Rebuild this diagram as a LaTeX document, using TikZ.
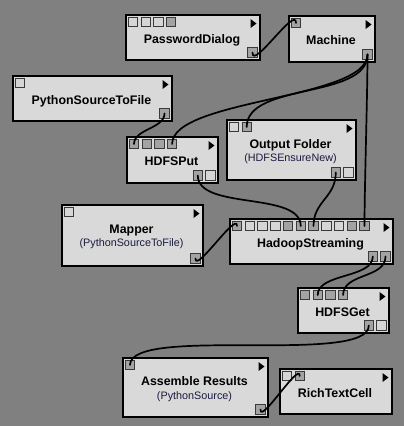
\documentclass[tikz,border=0pt]{standalone}
\usepackage{fontspec}
\setmainfont{Liberation Sans}
\definecolor{canvas}{HTML}{808080}
\definecolor{modfill}{HTML}{D9D9D9}
\definecolor{portlight}{HTML}{D6D6D6}
\definecolor{portgray}{HTML}{A3A3A3}
\definecolor{portline}{HTML}{3A3A3A}
\definecolor{subtext}{HTML}{1A1A40}

\begin{document}
\begin{tikzpicture}[x=1pt,y=-1pt,
        module/.style={draw, line width=1.5pt, fill=modfill, anchor=north west, inner sep=0pt},
        port/.style={draw=portline, line width=0.8pt, minimum size=9.5pt, inner sep=0pt},
        title/.style={anchor=base, font=\bfseries\fontsize{12.4}{14}\selectfont},
        subtitle/.style={anchor=base, text=subtext, font=\fontsize{10.8}{13}\selectfont},
        wire/.style={line width=1.7pt, line cap=round}]
        \fill[canvas] (0,0) rectangle (404,426);
        \useasboundingbox (0,0) rectangle (404,426);
        \node[module, minimum width=134pt, minimum height=45pt] (pd) at (125,14) {};
        \node[module, minimum width=86pt, minimum height=46pt] (m) at (288,15) {};
        \node[module, minimum width=159pt, minimum height=45pt] (ps) at (12,75) {};
        \node[module, minimum width=91pt, minimum height=46pt] (hp) at (126,136) {};
        \node[module, minimum width=129pt, minimum height=60pt] (of) at (226,119) {};
        \node[module, minimum width=141pt, minimum height=61pt] (mp) at (61,204) {};
        \node[module, minimum width=163pt, minimum height=45pt] (hs) at (229,218) {};
        \node[module, minimum width=91pt, minimum height=45pt] (hg) at (297,287) {};
        \node[module, minimum width=145pt, minimum height=59pt] (ar) at (122,357) {};
        \node[module, minimum width=112pt, minimum height=45pt] (rt) at (279,368) {};
        \foreach \m in {pd,m,ps,hp,of,mp,hs,hg,ar,rt}
            \fill ([shift={(-10,5)}]\m.north east) -- ++(6,4.5) -- ++(-6,4.5) -- cycle;
        \foreach \c [count=\i] in {portlight,portlight,portlight,portgray}
            \node[port, fill=\c] (pd-i\i) at ([shift={({8+12.7*(\i-1)},8)}]pd.north west) {};
        \node[port, fill=portgray] (pd-o1) at ([shift={(-8,-8)}]pd.south east) {};
        \node[port, fill=portgray] (m-i1) at ([shift={(8,8)}]m.north west) {};
        \node[port, fill=portgray] (m-o1) at ([shift={(-8,-8)}]m.south east) {};
        \node[port, fill=portlight] (ps-i1) at ([shift={(8,8)}]ps.north west) {};
        \node[port, fill=portgray] (ps-o1) at ([shift={(-8,-8)}]ps.south east) {};
        \foreach \i in {1,...,4}
            \node[port, fill=portgray] (hp-i\i) at ([shift={({8+12.7*(\i-1)},8)}]hp.north west) {};
        \node[port, fill=portgray] (hp-o1) at ([shift={(-20.7,-8)}]hp.south east) {};
        \node[port, fill=portlight] (hp-o2) at ([shift={(-8,-8)}]hp.south east) {};
        \foreach \c [count=\i] in {portlight,portgray}
            \node[port, fill=\c] (of-i\i) at ([shift={({8+12.7*(\i-1)},8)}]of.north west) {};
        \node[port, fill=portgray] (of-o1) at ([shift={(-20.7,-8)}]of.south east) {};
        \node[port, fill=portlight] (of-o2) at ([shift={(-8,-8)}]of.south east) {};
        \node[port, fill=portlight] (mp-i1) at ([shift={(8,8)}]mp.north west) {};
        \node[port, fill=portgray] (mp-o1) at ([shift={(-8,-8)}]mp.south east) {};
        \foreach \c [count=\i] in {portgray,portlight,portlight,portlight,portgray,portgray,portgray,portlight,portlight,portgray,portgray}
            \node[port, fill=\c] (hs-i\i) at ([shift={({8+12.75*(\i-1)},8)}]hs.north west) {};
        \node[port, fill=portgray] (hs-o1) at ([shift={(-20.7,-8)}]hs.south east) {};
        \node[port, fill=portgray] (hs-o2) at ([shift={(-8,-8)}]hs.south east) {};
        \foreach \i in {1,...,4}
            \node[port, fill=portgray] (hg-i\i) at ([shift={({8+12.7*(\i-1)},8)}]hg.north west) {};
        \node[port, fill=portgray] (hg-o1) at ([shift={(-20.7,-8)}]hg.south east) {};
        \node[port, fill=portlight] (hg-o2) at ([shift={(-8,-8)}]hg.south east) {};
        \node[port, fill=portgray] (ar-i1) at ([shift={(8,8)}]ar.north west) {};
        \node[port, fill=portgray] (ar-o1) at ([shift={(-8,-8)}]ar.south east) {};
        \foreach \c [count=\i] in {portlight,portgray}
            \node[port, fill=\c] (rt-i\i) at ([shift={({8+12.7*(\i-1)},8)}]rt.north west) {};
        \node[title] (pd-t) at (192,43) {PasswordDialog};
        \node[title] (m-t) at (331,44) {Machine};
        \node[title] (ps-t) at (91.5,104) {PythonSourceToFile};
        \node[title] (hp-t) at (171.5,165) {HDFSPut};
        \node[title] (of-t) at (290.5,148) {Output Folder};
        \node[subtitle] (of-s) at (290.5,161.5) {(HDFSEnsureNew)};
        \node[title] (mp-t) at (131.5,233.5) {Mapper};
        \node[subtitle] (mp-s) at (131.5,246.5) {(PythonSourceToFile)};
        \node[title] (hs-t) at (310.5,247) {HadoopStreaming};
        \node[title] (hg-t) at (342.5,316.5) {HDFSGet};
        \node[title] (ar-t) at (194.5,385.5) {Assemble Results};
        \node[subtitle] (ar-s) at (194.5,399) {(PythonSource)};
        \node[title] (rt-t) at (335,397) {RichTextCell};
        \draw[wire] (pd-o1.center) .. controls +(0,18) and +(0,-18) .. (m-i1.center);
        \draw[wire] (m-o1.center) .. controls +(0,45) and +(0,-45) .. (hp-i4.center);
        \draw[wire] (m-o1.center) .. controls +(0,45) and +(0,-45) .. (of-i2.center);
        \draw[wire] (m-o1.center) .. controls +(0,40) and +(0,-40) .. (hs-i11.center);
        \draw[wire] (ps-o1.center) .. controls +(0,15) and +(0,-15) .. (hp-i1.center);
        \draw[wire] (hp-o1.center) .. controls +(0,35) and +(0,-35) .. (hs-i6.center);
        \draw[wire] (of-o1.center) .. controls +(0,25) and +(0,-25) .. (hs-i7.center);
        \draw[wire] (mp-o1.center) .. controls +(0,15) and +(0,-15) .. (hs-i1.center);
        \draw[wire] (hs-o1.center) .. controls +(0,22) and +(0,-22) .. (hg-i2.center);
        \draw[wire] (hs-o2.center) .. controls +(0,22) and +(0,-22) .. (hg-i4.center);
        \draw[wire] (hg-o1.center) .. controls +(0,40) and +(0,-40) .. (ar-i1.center);
        \draw[wire] (ar-o1.center) .. controls +(0,15) and +(0,-15) .. (rt-i2.center);
    \end{tikzpicture}
\end{document}
